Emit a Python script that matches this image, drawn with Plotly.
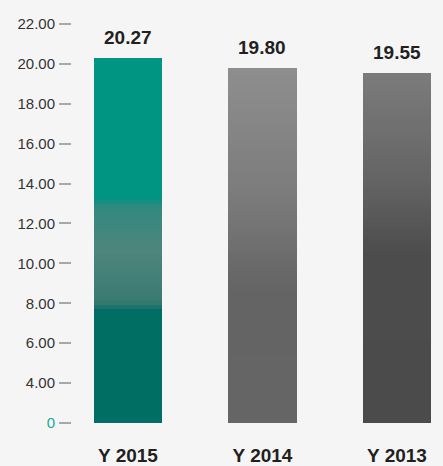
import plotly.graph_objects as go

# ---- data ----
categories = ["Y 2015", "Y 2014", "Y 2013"]
values = [20.27, 19.80, 19.55]
value_labels = ["20.27", "19.80", "19.55"]
tick_values = [2, 4, 6, 8, 10, 12, 14, 16, 18, 20, 22]
tick_labels = ["0", "4.00", "6.00", "8.00", "10.00", "12.00", "14.00",
               "16.00", "18.00", "20.00", "22.00"]

# ---- styling ----
AXIS_BASE = 2  # the "0" label sits at this axis position
gradients = [
    [(0.0, "#009482"), (0.38, "#009482"), (0.41, "#33897e"), (0.53, "#4e857d"),
     (0.665, "#3a7a71"), (0.695, "#006e62"), (1.0, "#006e62")],
    [(0.0, "#8e8e8e"), (0.35, "#7c7c7c"), (0.63, "#636463"), (1.0, "#646564")],
    [(0.0, "#7b7b7b"), (0.30, "#656565"), (0.52, "#4c4c4c"), (1.0, "#4b4b4b")],
]


def hex2rgb(h):
    h = h.lstrip("#")
    return tuple(int(h[i:i + 2], 16) for i in (0, 2, 4))


def color_at(stops, t):
    for (t0, c0), (t1, c1) in zip(stops[:-1], stops[1:]):
        if t0 <= t <= t1:
            f = 0 if t1 == t0 else (t - t0) / (t1 - t0)
            a, b = hex2rgb(c0), hex2rgb(c1)
            return "rgb(%d,%d,%d)" % tuple(round(a[i] + (b[i] - a[i]) * f) for i in range(3))
    return stops[-1][1]


N = 80
xs, bases, heights, colors = [], [], [], []
for cat, val, stops in zip(categories, values, gradients):
    span = val - AXIS_BASE
    for k in range(N):
        lo = AXIS_BASE + span * k / N
        xs.append(cat)
        bases.append(lo)
        heights.append(val - lo)
        t = 1 - (k + 0.5) / N  # fraction from top
        colors.append(color_at(stops, t))

fig = go.Figure()
fig.add_trace(go.Bar(
    x=xs, y=heights, base=bases, width=0.506,
    marker=dict(color=colors, line=dict(width=0)),
    hoverinfo="skip", showlegend=False,
))

for cat, val, lab in zip(categories, values, value_labels):
    fig.add_annotation(x=cat, y=val, text="<b>%s</b>" % lab, showarrow=False,
                       yanchor="bottom", yshift=8,
                       font=dict(family="Arial", size=19, color="#231f20"))

ticktext = ["<span style='color:#1aa89a'>%s</span>" % tick_labels[0]] + tick_labels[1:]

fig.update_layout(
    width=443, height=466,
    margin=dict(l=72, r=0, t=2, b=40),
    paper_bgcolor="#f5f5f5", plot_bgcolor="rgba(0,0,0,0)",
    barmode="overlay", bargap=0,
    font=dict(family="Arial", color="#231f20"),
    xaxis=dict(
        type="category", range=[-0.416, 2.342],
        showgrid=False, zeroline=False, showline=False,
        ticks="outside", ticklen=0, ticklabelstandoff=15,
        tickfont=dict(family="Arial", size=19, color="#231f20", weight="bold"),
    ),
    yaxis=dict(
        range=[AXIS_BASE, AXIS_BASE + 424 / 20.1],
        tickvals=tick_values, ticktext=ticktext,
        showgrid=False, zeroline=False, showline=False,
        ticks="outside", ticklen=12, tickwidth=1.5, tickcolor="#a8a8a8",
        ticklabelstandoff=1,
        tickfont=dict(family="Arial", size=15, color="#333333"),
    ),
)

fig.write_html("out.html", config={"displayModeBar": False},
               post_script="document.body.style.margin='0';")
